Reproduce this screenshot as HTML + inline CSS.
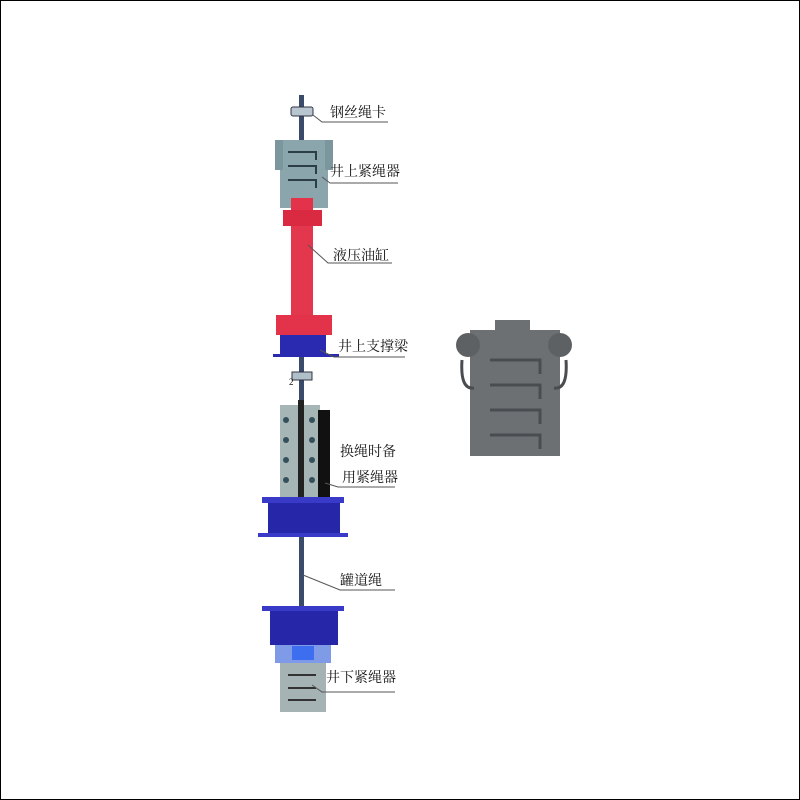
<!DOCTYPE html>
<html><head><meta charset="utf-8"><style>
body{margin:0;background:#fff}
.f{position:absolute;left:0;top:0;width:798px;height:798px;border:1px solid #000}
svg text{font-family:"Liberation Serif","Noto Serif CJK SC",serif;font-size:14px;fill:#111}
</style></head><body><div class="f"></div>
<svg width="800" height="800" style="position:absolute;left:0;top:0">
<rect x="299" y="95" width="5" height="617" fill="#3a4a6a"/>
<rect x="291" y="107" width="22" height="9" rx="2" fill="#b8c6d0" stroke="#334" stroke-width="1"/>
<rect x="280" y="140" width="48" height="68" fill="#8aa5ab"/>
<rect x="275" y="140" width="8" height="30" fill="#7b979d"/><rect x="325" y="140" width="8" height="30" fill="#7b979d"/>
<g stroke="#2d3d45" stroke-width="2" fill="none"><path d="M288 152h28v8M288 166h28v8M288 180h28v8"/></g>
<rect x="291" y="198" width="22" height="15" fill="#e2334a"/>
<rect x="283" y="210" width="39" height="16" fill="#d92a42"/>
<rect x="291" y="226" width="22" height="92" fill="#e3374d"/>
<rect x="276" y="315" width="56" height="20" fill="#e2334a"/>
<rect x="280" y="335" width="46" height="22" fill="#2a2ab0"/>
<rect x="273" y="354" width="66" height="3" fill="#2a2ab0"/>
<rect x="292" y="372" width="20" height="8" fill="#b0c0c8" stroke="#334" stroke-width="1"/>
<text x="289" y="385" style="font-size:9px">2</text>
<rect x="280" y="405" width="40" height="95" fill="#a6b5b5"/>
<rect x="318" y="410" width="12" height="90" fill="#111"/>
<rect x="298" y="400" width="6" height="100" fill="#222"/>
<g fill="#34505a"><circle cx="286" cy="420" r="3"/><circle cx="286" cy="440" r="3"/><circle cx="286" cy="460" r="3"/><circle cx="286" cy="480" r="3"/><circle cx="312" cy="420" r="3"/><circle cx="312" cy="440" r="3"/><circle cx="312" cy="460" r="3"/><circle cx="312" cy="480" r="3"/></g>
<rect x="262" y="497" width="82" height="6" fill="#3a3ac8"/>
<rect x="268" y="503" width="72" height="33" fill="#2626a8"/>
<rect x="258" y="533" width="90" height="4" fill="#3a3ac8"/>
<rect x="262" y="606" width="82" height="5" fill="#3a3ac8"/>
<rect x="270" y="611" width="68" height="34" fill="#2626a8"/>
<rect x="275" y="645" width="56" height="18" fill="#7f9be8"/>
<rect x="292" y="646" width="22" height="14" fill="#3d6ef0"/>
<rect x="280" y="663" width="46" height="49" fill="#a5b3b5"/>
<g stroke="#333" stroke-width="2" fill="none"><path d="M288 675h28M288 688h28M288 700h28"/></g>
<g stroke="#555" stroke-width="1" fill="none">
<path d="M313 115 L322 122 H388"/>
<path d="M322 177 L330 183 H398"/>
<path d="M308 245 L328 263 H392"/>
<path d="M320 350 L334 357 H405"/>
<path d="M325 483 L338 487 H395"/>
<path d="M303 575 L340 590 H395"/>
<path d="M312 685 L322 692 H395"/>
</g>
<text x="330" y="117">钢丝绳卡</text>
<text x="330" y="176">井上紧绳器</text>
<text x="333" y="260">液压油缸</text>
<text x="338" y="351">井上支撑梁</text>
<text x="340" y="456">换绳时备</text>
<text x="342" y="482">用紧绳器</text>
<text x="340" y="585">罐道绳</text>
<text x="326" y="682">井下紧绳器</text>
<rect x="470" y="330" width="90" height="126" fill="#6c7073"/>
<rect x="495" y="320" width="35" height="12" fill="#6c7073"/>
<circle cx="468" cy="345" r="12" fill="#5d6163"/><circle cx="560" cy="345" r="12" fill="#5d6163"/>
<g stroke="#4a4d50" stroke-width="3" fill="none"><path d="M462 360 q-2 30 12 28M566 360 q2 30 -12 28"/>
<path d="M490 360h50v14M490 385h50v14M490 410h50v14M490 435h50v14"/></g>
</svg>
</body></html>
